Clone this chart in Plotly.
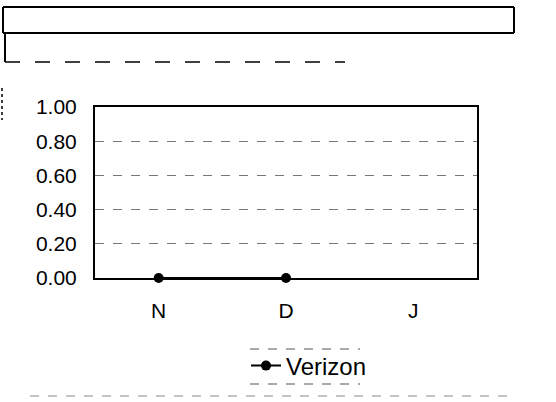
import plotly.graph_objects as go

# data
months = ["N", "D", "J"]
verizon = [0.0, 0.0, None]
y_ticks = [0.0, 0.2, 0.4, 0.6, 0.8, 1.0]
y_labels = ["0.00", "0.20", "0.40", "0.60", "0.80", "1.00"]

W, H = 556, 402
L, R, T, B = 95, 477, 107, 278  # plot area in page pixels


def px(x):
    return (x - L) / (R - L)


def py(y):
    return (B - y) / (B - T)


fig = go.Figure()
fig.add_trace(go.Scatter(
    x=months, y=verizon, name="Verizon", mode="lines+markers",
    line=dict(color="black", width=2),
    marker=dict(color="black", size=10),
    cliponaxis=False, showlegend=True,
))


def hline(x0, x1, y, width=1.5, dash="solid", color="black"):
    return dict(type="line", xref="paper", yref="paper",
                x0=px(x0), x1=px(x1), y0=py(y), y1=py(y),
                line=dict(color=color, width=width, dash=dash))


def vline(x, y0, y1, width=1.5, dash="solid", color="black"):
    return dict(type="line", xref="paper", yref="paper",
                x0=px(x), x1=px(x), y0=py(y0), y1=py(y1),
                line=dict(color=color, width=width, dash=dash))


# scan leftovers of the title boxes and legend frame
shapes = [
    hline(3, 514, 7, 2),
    hline(3, 514, 33, 2),
    vline(3, 7, 33, 2),
    vline(514, 7, 33, 2),
    vline(5, 34, 62, 2),
    hline(5, 345, 62, 1.5, "longdash"),
    vline(2, 88, 120, 1.5, "dot"),
    hline(250, 360, 349, 1, "dash", "#555"),
    hline(250, 360, 384, 1, "dash", "#555"),
    hline(30, 510, 396, 1, "dash", "#888"),
]

fig.update_layout(
    width=W, height=H,
    margin=dict(l=L, r=W - R, t=T, b=H - B),
    paper_bgcolor="white", plot_bgcolor="white",
    font=dict(family="Liberation Sans, Arial, sans-serif", size=21, color="black"),
    shapes=shapes,
    showlegend=True,
    legend=dict(
        x=px(246), y=py(366), xanchor="left", yanchor="middle",
        orientation="h", borderwidth=0,
        font=dict(size=24), bgcolor="rgba(0,0,0,0)",
    ),
    xaxis=dict(
        type="category", range=[-0.5, 2.5], showgrid=False,
        showline=True, linecolor="black", linewidth=2, mirror=True,
        ticks="", tickfont=dict(size=21), ticklabelstandoff=13,
    ),
    yaxis=dict(
        range=[0, 1], tickvals=y_ticks, ticktext=y_labels,
        showgrid=True, gridcolor="#777", gridwidth=1, griddash="dash",
        showline=True, linecolor="black", linewidth=2, mirror=True,
        ticks="", tickfont=dict(size=21), zeroline=False,
        ticklabelstandoff=12,
    ),
)

# drop the default page margin so the figure sits at the window corner
fig.write_html("out.html", config={"displayModeBar": False},
               post_script="document.body.style.margin='0';")
